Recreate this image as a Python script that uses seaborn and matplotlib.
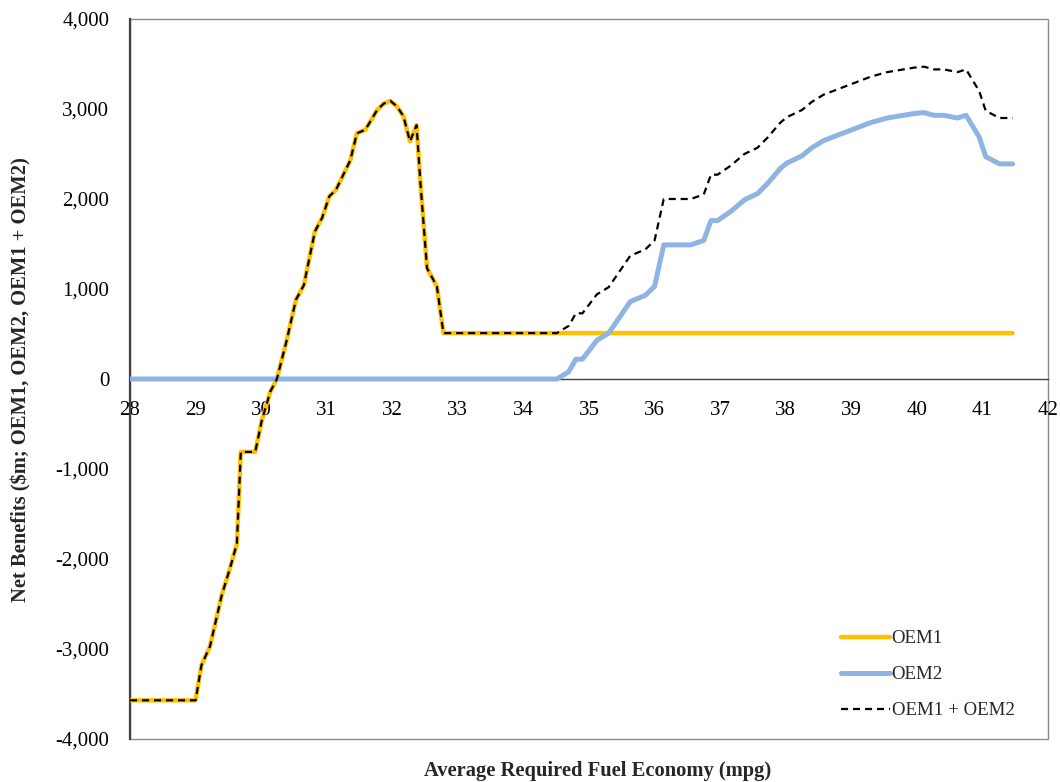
import matplotlib
matplotlib.use("Agg")
import matplotlib.pyplot as plt
import seaborn as sns
import pandas as pd
from matplotlib.patches import Rectangle
from matplotlib.ticker import FuncFormatter

mpg = [28.0, 29.0, 29.09, 29.22, 29.40, 29.53, 29.63, 29.69, 29.91, 30.01,
       30.14, 30.24, 30.39, 30.53, 30.65, 30.82, 30.93, 31.04, 31.14, 31.36,
       31.46, 31.59, 31.77, 31.87, 31.97, 32.07, 32.17, 32.27, 32.37, 32.43,
       32.53, 32.68, 32.78, 34.51, 34.69, 34.80, 34.90, 35.12, 35.30, 35.63,
       35.86, 36.00, 36.14, 36.55, 36.75, 36.86, 36.96, 37.16, 37.37, 37.57,
       37.72, 37.92, 38.02, 38.25, 38.40, 38.58, 38.94, 39.30, 39.55, 39.96,
       40.11, 40.26, 40.41, 40.62, 40.75, 40.95, 41.05, 41.26, 41.46]

oem1 = [-3570, -3570, -3180, -2970, -2400, -2090, -1830, -810, -810, -460,
        -140, 0, 430, 880, 1040, 1640, 1790, 2030, 2100, 2430,
        2730, 2770, 2990, 3060, 3090, 3030, 2920, 2640, 2820, 2170,
        1230, 1030, 510, 510, 510, 510, 510, 510, 510, 510,
        510, 510, 510, 510, 510, 510, 510, 510, 510, 510,
        510, 510, 510, 510, 510, 510, 510, 510, 510, 510,
        510, 510, 510, 510, 510, 510, 510, 510, 510]

oem2 = [0, 0, 0, 0, 0, 0, 0, 0, 0, 0,
        0, 0, 0, 0, 0, 0, 0, 0, 0, 0,
        0, 0, 0, 0, 0, 0, 0, 0, 0, 0,
        0, 0, 0, 0, 80, 220, 220, 430, 510, 860,
        930, 1030, 1490, 1490, 1540, 1760, 1760, 1860, 1990, 2060,
        2170, 2340, 2400, 2480, 2570, 2650, 2750, 2850, 2900, 2950,
        2960, 2930, 2930, 2900, 2930, 2690, 2470, 2390, 2390]

oem_total = [-3570, -3570, -3180, -2970, -2400, -2090, -1830, -810, -810, -460,
             -140, 0, 430, 880, 1040, 1640, 1790, 2030, 2100, 2430,
             2730, 2770, 2990, 3060, 3090, 3030, 2920, 2640, 2820, 2170,
             1230, 1030, 510, 510, 590, 730, 730, 940, 1020, 1370,
             1440, 1540, 2000, 2000, 2050, 2270, 2270, 2370, 2500, 2570,
             2680, 2850, 2910, 2990, 3080, 3160, 3260, 3360, 3410, 3460,
             3470, 3440, 3440, 3410, 3440, 3200, 2980, 2900, 2900]

x_ticks = [28, 29, 30, 31, 32, 33, 34, 35, 36, 37, 38, 39, 40, 41, 42]
y_ticks = [-4000, -3000, -2000, -1000, 0, 1000, 2000, 3000, 4000]

df = pd.DataFrame({"mpg": mpg, "OEM1": oem1, "OEM2": oem2, "OEM1 + OEM2": oem_total})

sns.set_style("white")
plt.rcParams["font.family"] = ["Liberation Serif", "DejaVu Serif"]

fig = plt.figure(figsize=(10.6, 7.82), dpi=100)
ax = fig.add_axes([130 / 1060, 1 - 739 / 782, (1048 - 130) / 1060, (739 - 19) / 782])

sns.lineplot(data=df, x="mpg", y="OEM1", ax=ax, color="#FFC000", lw=3.2,
             label="OEM1", solid_capstyle="round", zorder=3)
sns.lineplot(data=df, x="mpg", y="OEM2", ax=ax, color="#8DB4E2", lw=3.6,
             label="OEM2", solid_capstyle="round", zorder=4)
sns.lineplot(data=df, x="mpg", y="OEM1 + OEM2", ax=ax, color="black", lw=1.6,
             label="OEM1 + OEM2", zorder=5)
ax.lines[-1].set_dashes([3.2, 2.2])

ax.set_xlim(28, 42)
ax.set_ylim(-4000, 4000)
ax.set_xticks(x_ticks)
ax.set_yticks(y_ticks)
ax.yaxis.set_major_formatter(FuncFormatter(lambda v, p: f"{int(v):,}"))

for s in ["top", "right"]:
    ax.spines[s].set_visible(False)
ax.spines["bottom"].set_position(("data", 0))
ax.spines["bottom"].set_color("#404040")
ax.spines["bottom"].set_linewidth(1.0)
ax.spines["left"].set_color("#404040")
ax.spines["left"].set_linewidth(1.6)
ax.add_patch(Rectangle((0, 0), 1, 1, transform=ax.transAxes, fill=False,
                       edgecolor="#8c8c8c", lw=1.0, zorder=0, clip_on=False))

ax.tick_params(axis="both", direction="out", length=5, width=1, color="#404040",
               labelsize=15, labelcolor="black")
ax.tick_params(axis="x", pad=11)
ax.tick_params(axis="y", pad=10)

ax.set_xlabel("")
ax.set_ylabel("")
fig.text(598 / 1060, 1 - 771 / 782, "Average Required Fuel Economy (mpg)",
         ha="center", va="center", fontsize=14.8, fontweight="bold")
fig.text(21 / 1060, 1 - 380 / 782, r"Net Benefits (\$m; OEM1, OEM2, OEM1 + OEM2)",
         ha="center", va="center", rotation=90, fontsize=14.8, fontweight="bold")

leg = ax.legend(loc="lower left", bbox_to_anchor=(833 / 1060, 1 - 727 / 782),
                bbox_transform=fig.transFigure, frameon=False, fontsize=13.6,
                handlelength=2.6, handletextpad=0.1, labelspacing=1.0,
                borderaxespad=0)

fig.savefig("out.png", dpi=100)
